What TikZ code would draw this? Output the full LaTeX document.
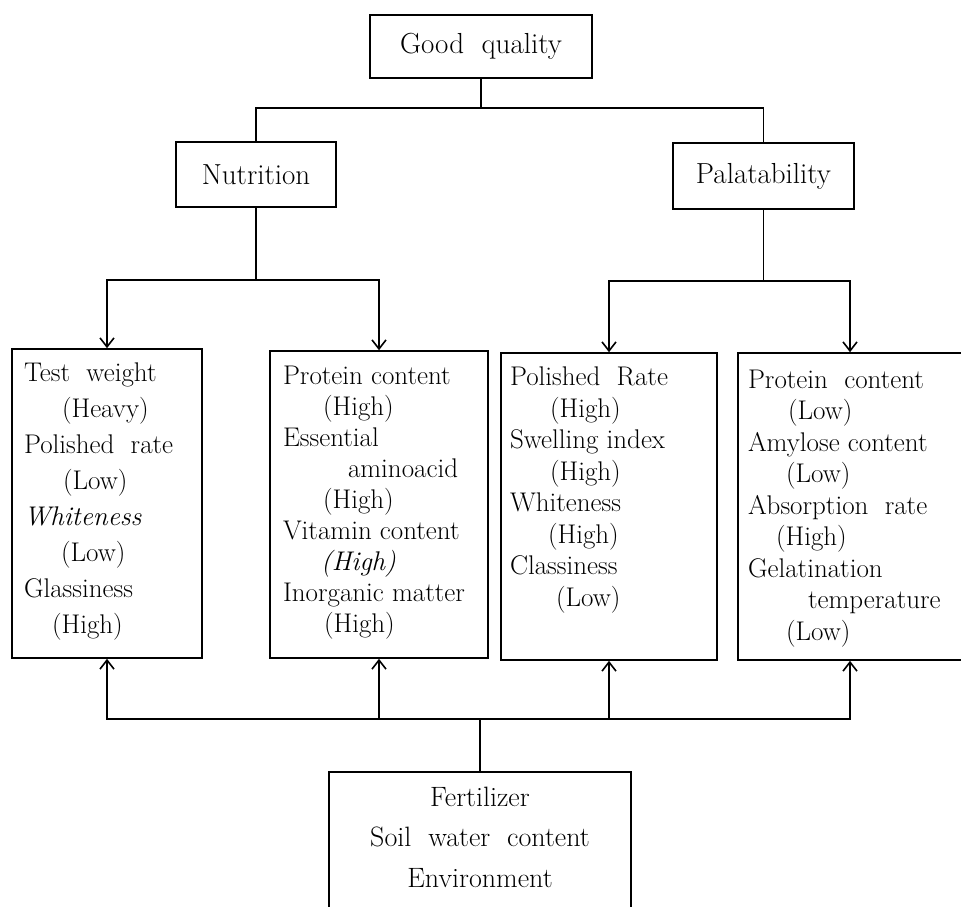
\documentclass[tikz,border=0pt]{standalone}
\usetikzlibrary{positioning}
\usetikzlibrary{arrows.meta}

\begin{document}
\begin{tikzpicture}[x=1pt, y=-1pt, line width=1.6pt,
        >={Straight Barb[length=9pt, width=14pt]},
        frame/.style={draw, inner sep=0pt},
        title/.style={frame, font=\fontsize{29}{30}\selectfont},
        lines/.style={anchor=north west, align=left, inner sep=0pt,
            font=\fontsize{27}{31.5}\selectfont}]
        \useasboundingbox (0,0) rectangle (961,906);

        % top of the tree
        \node[title, minimum width=222, minimum height=63] (good) at (481,46.5) {Good\ \ quality};
        \node[title, minimum width=160, minimum height=65] (nutr) at (256,174.5) {Nutrition};
        \node[title, minimum width=181, minimum height=66] (palat) at (763.5,176) {Palatability};

        \coordinate (topbar) at (0,108);
        \coordinate (nbar) at (0,280);
        \coordinate (pbar) at (0,281);
        \coordinate (fbar) at (0,719);

        \draw (good.south) -- (good.south |- topbar);
        \draw (nutr.north) |- (topbar -| palat.north) -- (palat.north);

        % the four lists
        \node[frame, minimum width=190, minimum height=309] (b1) at (107,503.5) {};
        \node[frame, minimum width=218, minimum height=307] (b2) at (379,504.5) {};
        \node[frame, minimum width=216, minimum height=307] (b3) at (609,506.5) {};
        \node[frame, minimum width=224, minimum height=307] (b4) at (850,506.5) {};

        \node[lines, font=\fontsize{27}{36}\selectfont, below right=14pt and 12pt of b1.north west] (t1)
            {Test\ \ weight\\
             \hspace*{38pt}(Heavy)\\
             Polished\ \ rate\\
             \hspace*{39pt}(Low)\\
             \textit{Whiteness}\\
             \hspace*{37pt}(Low)\\
             Glassiness\\
             \hspace*{28pt}(High)};
        \node[lines, font=\fontsize{27}{31}\selectfont, below right=15pt and 13pt of b2.north west] (t2)
            {Protein content\\
             \hspace*{40pt}(High)\\
             Essential\\
             \hspace*{65pt}aminoacid\\
             \hspace*{40pt}(High)\\
             Vitamin content\\
             \hspace*{38pt}\textit{(High)}\\
             Inorganic matter\\
             \hspace*{41pt}(High)};
        \node[lines, below right=14pt and 9pt of b3.north west] (t3)
            {Polished\ \ Rate\\
             \hspace*{40pt}(High)\\
             Swelling index\\
             \hspace*{40pt}(High)\\
             Whiteness\\
             \hspace*{38pt}(High)\\
             Classiness\\
             \hspace*{46pt}(Low)};
        \node[lines, below right=17pt and 10pt of b4.north west] (t4)
            {Protein\ \ content\\
             \hspace*{40pt}(Low)\\
             Amylose content\\
             \hspace*{38pt}(Low)\\
             Absorption\ \ rate\\
             \hspace*{28pt}(High)\\
             Gelatination\\
             \hspace*{60pt}temperature\\
             \hspace*{38pt}(Low)};

        \draw (nutr.south) -- (nutr.south |- nbar);
        \draw[<->] (b1.north) -- (b1.north |- nbar) -| (b2.north);
        \draw (palat.south) -- (palat.south |- pbar);
        \draw[<->] (b3.north) -- (b3.north |- pbar) -| (b4.north);

        % factors at the bottom
        \node[frame, minimum width=302, minimum height=190] (fert) at (480,867) {};
        \node[anchor=north, align=center, inner sep=0pt, font=\fontsize{28}{40.5}\selectfont,
            below=15pt of fert.north] (ftext)
            {Fertilizer\\Soil\ \ water\ \ content\\Environment};

        \draw (fert.north) -- (fert.north |- fbar);
        \draw[<->] (b1.south) -- (b1.south |- fbar) -| (b4.south);
        \draw[->] (b2.south |- fbar) -- (b2.south);
        \draw[->] (b3.south |- fbar) -- (b3.south);
\end{tikzpicture}
\end{document}
